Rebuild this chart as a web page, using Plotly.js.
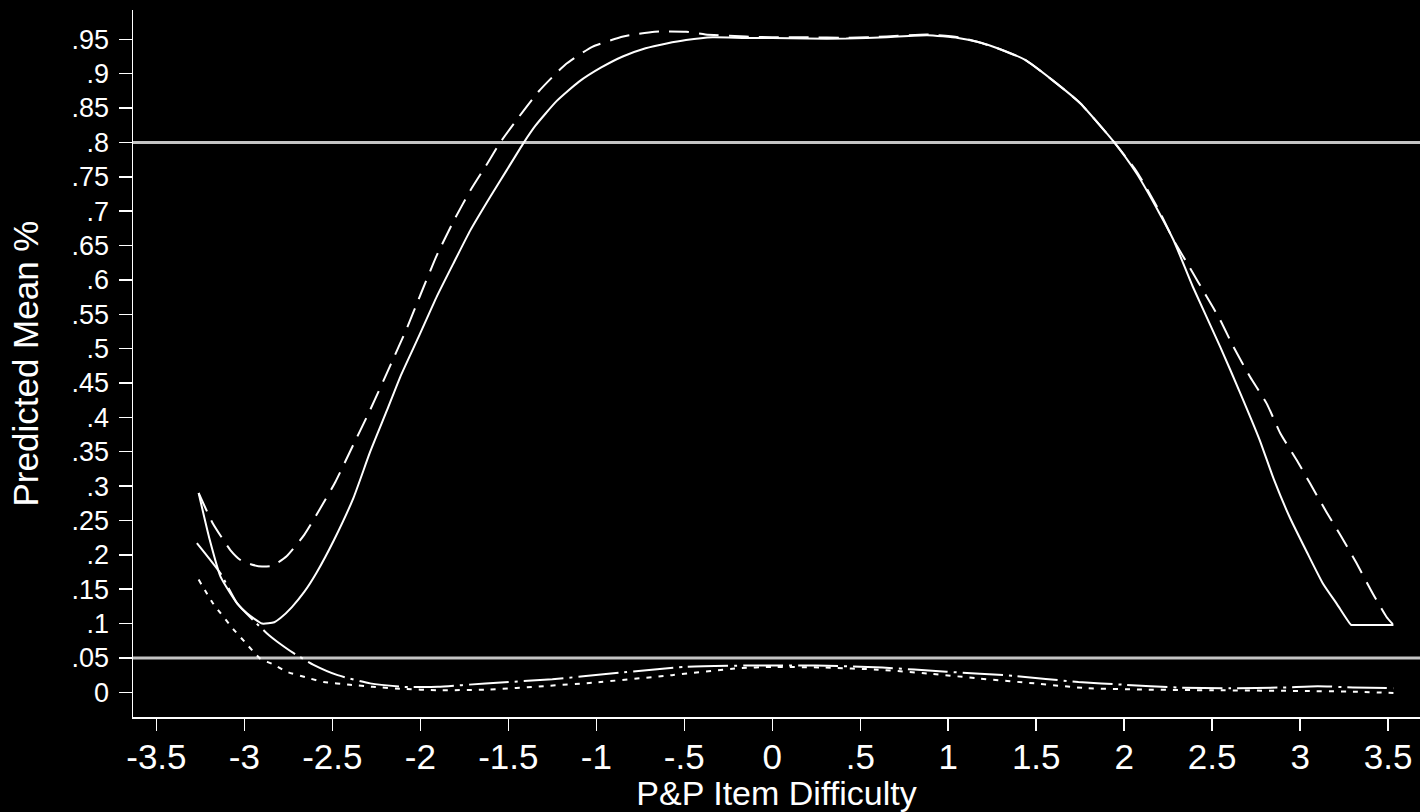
<!DOCTYPE html>
<html>
<head>
<meta charset="utf-8">
<script src="https://cdn.plot.ly/plotly-3.0.1.min.js"></script>
<style>html,body{margin:0;padding:0;background:#000;}#chart{width:1420px;height:812px;}</style>
</head>
<body>
<div id="chart"></div>
<script>
// Solid curve
var solidX = [-3.26,-3.2,-3.135,-3.04,-2.985,-2.9,-2.83,-2.795,-2.73,-2.66,-2.59,-2.49,-2.38,-2.285,-2.19,-2.114,-2.01,-1.906,-1.81,-1.716,-1.6,-1.508,-1.414,-1.347,-1.226,-1.1,-0.972,-0.85,-0.72,-0.6,-0.49,-0.34,-0.15,0,0.2,0.42,0.65,0.88,1.056,1.17,1.28,1.437,1.59,1.75,1.94,2.07,2.2,2.28,2.39,2.545,2.66,2.77,2.85,2.94,3.04,3.13,3.21,3.29,3.31,3.53];
var solidY = [0.29,0.225,0.168,0.129,0.115,0.10,0.102,0.108,0.124,0.146,0.174,0.222,0.283,0.350,0.410,0.459,0.517,0.576,0.625,0.672,0.722,0.760,0.799,0.824,0.860,0.888,0.909,0.925,0.937,0.944,0.949,0.953,0.952,0.952,0.951,0.951,0.953,0.956,0.952,0.946,0.937,0.92,0.891,0.857,0.801,0.755,0.697,0.658,0.59,0.503,0.435,0.367,0.31,0.255,0.203,0.158,0.128,0.098,0.098,0.098];
// Dashed curve
var dashX = [-3.26,-3.18,-3.08,-3.02,-2.96,-2.90,-2.84,-2.76,-2.66,-2.57,-2.483,-2.40,-2.285,-2.17,-2.076,-2.0,-1.906,-1.81,-1.716,-1.62,-1.546,-1.455,-1.328,-1.177,-1.023,-0.847,-0.668,-0.49,-0.38,-0.15,0,0.2,0.42,0.65,0.88,1.056,1.17,1.28,1.437,1.59,1.75,1.94,2.07,2.2,2.28,2.37,2.47,2.545,2.62,2.715,2.81,2.887,2.98,3.056,3.15,3.23,3.32,3.41,3.49,3.53];
var dashY = [0.29,0.246,0.207,0.192,0.186,0.183,0.184,0.198,0.229,0.267,0.306,0.350,0.411,0.476,0.530,0.578,0.636,0.686,0.730,0.769,0.800,0.832,0.874,0.913,0.939,0.954,0.961,0.961,0.957,0.954,0.953,0.953,0.952,0.954,0.957,0.953,0.946,0.937,0.92,0.891,0.857,0.801,0.758,0.70,0.658,0.619,0.575,0.542,0.503,0.459,0.42,0.377,0.338,0.304,0.262,0.228,0.188,0.145,0.110,0.098];
// Dash-dot curve
var ddX = [-3.27,-3.136,-3.04,-2.95,-2.86,-2.815,-2.72,-2.607,-2.47,-2.285,-2.1,-1.9,-1.63,-1.25,-0.87,-0.5,-0.12,0.245,0.625,0.99,1.37,1.74,2.0,2.3,2.6,2.9,3.1,3.3,3.53];
var ddY = [0.217,0.173,0.129,0.105,0.083,0.074,0.057,0.040,0.025,0.013,0.008,0.008,0.013,0.019,0.0285,0.037,0.039,0.039,0.036,0.030,0.024,0.015,0.011,0.007,0.006,0.007,0.009,0.007,0.006];
// Dotted curve
var dtX = [-3.26,-3.18,-3.06,-3.0,-2.91,-2.83,-2.76,-2.625,-2.55,-2.40,-2.27,-2.1,-1.9,-1.61,-1.3,-1.02,-0.57,-0.19,0,0.3,0.6,0.9,1.18,1.49,1.79,2.1,2.5,3.0,3.3,3.53];
var dtY = [0.164,0.130,0.091,0.074,0.049,0.040,0.030,0.020,0.015,0.011,0.008,0.005,0.003,0.004,0.009,0.014,0.025,0.035,0.037,0.036,0.033,0.027,0.020,0.013,0.006,0.004,0.003,0.002,0.001,-0.001];

var refLines = [0.8, 0.05];
var xTickVals = [-3.5,-3,-2.5,-2,-1.5,-1,-0.5,0,0.5,1,1.5,2,2.5,3,3.5];
var xTickText = ["-3.5","-3","-2.5","-2","-1.5","-1","-.5","0",".5","1","1.5","2","2.5","3","3.5"];
var yTickVals = [0,0.05,0.1,0.15,0.2,0.25,0.3,0.35,0.4,0.45,0.5,0.55,0.6,0.65,0.7,0.75,0.8,0.85,0.9,0.95];
var yTickText = ["0",".05",".1",".15",".2",".25",".3",".35",".4",".45",".5",".55",".6",".65",".7",".75",".8",".85",".9",".95"];
var xTitle = "P&P Item Difficulty";
var yTitle = "Predicted Mean %";

var FONT = 'Arial, "Liberation Sans", sans-serif';
function tr(x, y, dash) {
  return {x: x, y: y, type: 'scatter', mode: 'lines',
    line: {color: '#ffffff', width: 2, dash: dash, shape: 'spline', smoothing: 0.5},
    hoverinfo: 'skip'};
}
var data = [
  tr(solidX, solidY, 'solid'),
  tr(dashX, dashY, '20px,10px'),
  tr(ddX, ddY, '40px,6px,3px,6px'),
  tr(dtX, dtY, '5px,7px')
];
var shapes = refLines.map(function(v){
  return {type: 'line', xref: 'paper', x0: 0, x1: 1, yref: 'y', y0: v, y1: v,
    line: {color: '#c4c4c4', width: 3}, layer: 'below'};
});
var layout = {
  width: 1420, height: 812,
  paper_bgcolor: '#000', plot_bgcolor: '#000',
  margin: {l: 133, r: 0, t: 10, b: 95},
  showlegend: false,
  font: {family: FONT, color: '#fff'},
  shapes: shapes,
  xaxis: {
    range: [-3.633, 3.681], tickmode: 'array', tickvals: xTickVals, ticktext: xTickText,
    ticks: 'outside', ticklen: 12, tickwidth: 1.5, tickcolor: '#fff',
    showline: true, linecolor: '#fff', linewidth: 1.5, showgrid: false, zeroline: false,
    tickfont: {family: FONT, size: 35, color: '#fff'}, ticklabelstandoff: -4,
    title: {text: xTitle, font: {family: FONT, size: 34, color: '#fff'}, standoff: 0}
  },
  yaxis: {
    range: [-0.0359, 0.9926], tickmode: 'array', tickvals: yTickVals, ticktext: yTickText,
    ticks: 'outside', ticklen: 13, tickwidth: 1.5, tickcolor: '#fff',
    showline: true, linecolor: '#fff', linewidth: 1.5, showgrid: false, zeroline: false,
    tickfont: {family: FONT, size: 27, color: '#fff'}, ticklabelstandoff: 4,
    title: {text: yTitle, font: {family: FONT, size: 35, color: '#fff'}, standoff: 22}
  }
};
Plotly.newPlot('chart', data, layout, {displayModeBar: false, staticPlot: true});
</script>
</body>
</html>
